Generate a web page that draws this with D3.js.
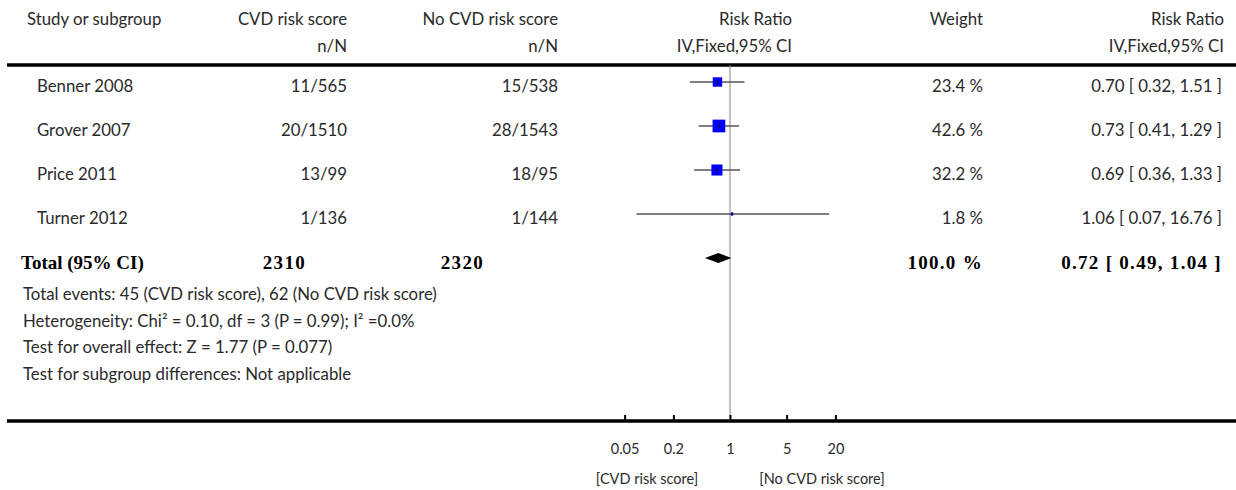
<!DOCTYPE html>
<html>
<head>
<meta charset="utf-8">
<script src="https://cdn.jsdelivr.net/npm/d3@7"></script>
<style>
  body { margin: 0; background: #fff; }
  text { font-family: Lato, "Open Sans", sans-serif; font-size: 16.8px; fill: #2a2a2a; }
  .bold { font-family: "Liberation Serif", serif; font-weight: bold; font-size: 19px; fill: #000; }
  .num { letter-spacing: 1.3px; }
</style>
</head>
<body>
<div class="container"></div>
<script>
const WIDTH = 1236,
    HEIGHT = 490;

// data
const studies = ['Benner 2008', 'Grover 2007', 'Price 2011', 'Turner 2012'];
const cvdEvents = [11, 20, 13, 1];
const cvdTotal = [565, 1510, 99, 136];
const noEvents = [15, 28, 18, 1];
const noTotal = [538, 1543, 95, 144];
const riskRatio = [0.70, 0.73, 0.69, 1.06];
const ciLow = [0.32, 0.41, 0.36, 0.07];
const ciHigh = [1.51, 1.29, 1.33, 16.76];
const weights = [23.4, 42.6, 32.2, 1.8];
const totalLabel = 'Total (95% CI)';
const totalN = [2310, 2320];
const totalRR = [0.72, 0.49, 1.04];
const totalWeight = 100.0;
const axisTicks = [0.05, 0.2, 1, 5, 20];
const favours = ['[CVD risk score]', '[No CVD risk score]'];
const footnotes = [
    'Total events: 45 (CVD risk score), 62 (No CVD risk score)',
    'Heterogeneity: Chi\u00b2 = 0.10, df = 3 (P = 0.99); I\u00b2 =0.0%',
    'Test for overall effect: Z = 1.77 (P = 0.077)',
    'Test for subgroup differences: Not applicable'
];

const xScale = d3.scaleLog().domain([0.01, 100]).range([568, 892]);
const yScale = d3.scalePoint().domain(studies).range([82, 214]);
const boxSize = d3.scaleSqrt().domain([0, 100]).range([0, 19.5]);

const TOP_LINE = 65, BOTTOM_LINE = 421, TOTAL_Y = 258;

const svg = d3.select('.container').append('svg')
    .attr('width', WIDTH)
    .attr('height', HEIGHT);

var addText = (x, y, str, anchor, cls) => {
    var t = svg.append('text')
        .attr('x', x)
        .attr('y', y)
        .attr('text-anchor', anchor || 'start')
        .text(str);
    if (cls) t.attr('class', cls);
    return t;
};

// headers
addText(27, 25, 'Study or subgroup');
addText(347, 25, 'CVD risk score', 'end');
addText(347, 52, 'n/N', 'end');
addText(558, 25, 'No CVD risk score', 'end');
addText(558, 52, 'n/N', 'end');
addText(792, 25, 'Risk Ratio', 'end');
addText(792, 52, 'IV,Fixed,95% CI', 'end');
addText(983, 25, 'Weight', 'end');
addText(1224, 25, 'Risk Ratio', 'end');
addText(1224, 52, 'IV,Fixed,95% CI', 'end');

// rules
svg.append('line')
    .attr('x1', 7).attr('x2', WIDTH)
    .attr('y1', TOP_LINE).attr('y2', TOP_LINE)
    .attr('stroke', '#000').attr('stroke-width', 3.5);
svg.append('line')
    .attr('x1', 7).attr('x2', WIDTH)
    .attr('y1', BOTTOM_LINE).attr('y2', BOTTOM_LINE)
    .attr('stroke', '#000').attr('stroke-width', 3.5);

// line of no effect
svg.append('line')
    .attr('x1', xScale(1)).attr('x2', xScale(1))
    .attr('y1', TOP_LINE).attr('y2', BOTTOM_LINE)
    .attr('stroke', '#888').attr('stroke-width', 1);

var fmt2 = d3.format('.2f');

// study rows
studies.forEach((s, i) => {
    var y = yScale(s);
    addText(37, y + 10, s);
    addText(347, y + 10, cvdEvents[i] + '/' + cvdTotal[i], 'end');
    addText(558, y + 10, noEvents[i] + '/' + noTotal[i], 'end');
    addText(983, y + 10, weights[i].toFixed(1) + ' %', 'end');
    addText(1222, y + 10, fmt2(riskRatio[i]) + ' [ ' + fmt2(ciLow[i]) + ', ' + fmt2(ciHigh[i]) + ' ]', 'end');

    svg.append('line')
        .attr('x1', xScale(ciLow[i])).attr('x2', xScale(ciHigh[i]))
        .attr('y1', y).attr('y2', y)
        .attr('stroke', '#555').attr('stroke-width', 1.5);

    var b = boxSize(weights[i]);
    svg.append('rect')
        .attr('x', xScale(riskRatio[i]) - b / 2)
        .attr('y', y - b / 2)
        .attr('width', b).attr('height', b)
        .attr('fill', '#0000ff');

    svg.append('line')
        .attr('x1', xScale(riskRatio[i])).attr('x2', xScale(riskRatio[i]))
        .attr('y1', y - 2).attr('y2', y + 2)
        .attr('stroke', '#111').attr('stroke-width', 1);
});

// total row
addText(21, TOTAL_Y + 11, totalLabel, 'start', 'bold');
addText(306, TOTAL_Y + 11, totalN[0], 'end', 'bold num');
addText(484, TOTAL_Y + 11, totalN[1], 'end', 'bold num');
addText(983, TOTAL_Y + 11, totalWeight.toFixed(1) + ' %', 'end', 'bold num');
addText(1222, TOTAL_Y + 11, fmt2(totalRR[0]) + ' [ ' + fmt2(totalRR[1]) + ', ' + fmt2(totalRR[2]) + ' ]', 'end', 'bold num');

var dx = [xScale(totalRR[1]), xScale(totalRR[0]), xScale(totalRR[2])];
svg.append('path')
    .attr('d', d3.line()([[dx[0], TOTAL_Y], [dx[1], TOTAL_Y - 5], [dx[2], TOTAL_Y], [dx[1], TOTAL_Y + 5]]) + 'Z')
    .attr('fill', '#000');

// footnotes
footnotes.forEach((f, i) => {
    addText(23, 300 + i * 26.7, f);
});

// axis
var xAxis = d3.axisBottom(xScale)
    .tickValues(axisTicks)
    .tickFormat((d) => d3.format('~g')(d))
    .tickSizeInner(-6)
    .tickSizeOuter(0)
    .tickPadding(23);

var g = svg.append('g')
    .attr('transform', 'translate(0,' + BOTTOM_LINE + ')')
    .call(xAxis);
g.select('.domain').remove();
g.selectAll('.tick line').attr('stroke', '#000').attr('stroke-width', 2);
g.selectAll('.tick text')
    .style('font-family', 'Lato, sans-serif')
    .style('font-size', '14.5px')
    .attr('fill', '#2a2a2a');

addText(647, 484, favours[0], 'middle').style('font-size', '14.5px');
addText(822, 484, favours[1], 'middle').style('font-size', '14.5px');
</script>
</body>
</html>
